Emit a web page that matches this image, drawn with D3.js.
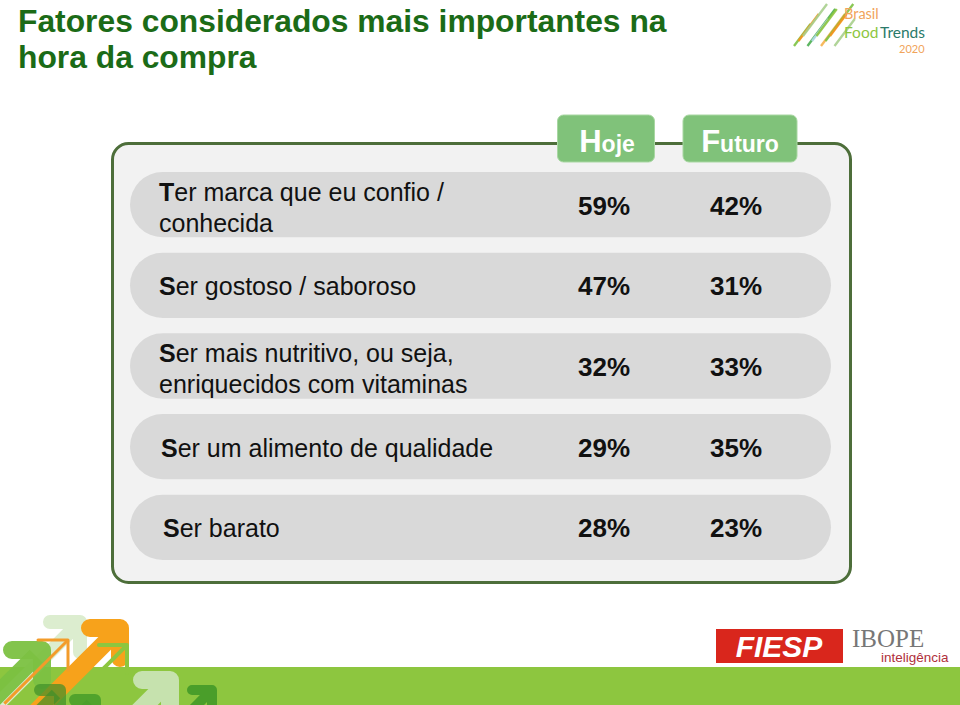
<!DOCTYPE html>
<html><head><meta charset="utf-8">
<script src="https://cdn.jsdelivr.net/npm/d3@7"></script>
<style>body{margin:0;background:#fff;}svg{display:block;font-family:"Liberation Sans",Arial,sans-serif;}</style>
</head><body><svg id="c" width="960" height="705"></svg>
<script>
const categories = [
  ["Ter marca que eu confio /", "conhecida"],
  ["Ser gostoso / saboroso"],
  ["Ser mais nutritivo, ou seja,", "enriquecidos com vitaminas"],
  ["Ser um alimento de qualidade"],
  ["Ser barato"]
];
const seriesNames = ["Hoje", "Futuro"];
const hoje = [59, 47, 32, 29, 28];
const futuro = [42, 31, 33, 35, 23];
const title = ["Fatores considerados mais importantes na", "hora da compra"];

const svg = d3.select("#c");

// Title
svg.append("g").selectAll("text").data(title).join("text")
  .attr("x", 18).attr("y", (d,i)=>32 + i*36)
  .attr("fill", "#1b6b17").attr("font-weight", "bold").attr("font-size", 31.8)
  .text(d=>d);

// Brasil Food Trends logo (decorative)
const logo = svg.append("g");
const arrowCols = ["#7dc242","#f7941d","#a8d08d","#4caf50","#b3d9e8","#8dc63f","#f7b24d"];
for (let i=0;i<10;i++){
  const x0 = 794 + i*4.5, y0 = 46 - (i%3)*5;
  const len = 22 + (i%4)*5;
  logo.append("line").attr("x1",x0).attr("y1",y0).attr("x2",x0+len*0.75).attr("y2",y0-len)
    .attr("stroke",arrowCols[i%arrowCols.length]).attr("stroke-width",2.4).attr("opacity",0.9);
}
logo.append("text").attr("x",844).attr("y",19).attr("font-size",14.5).attr("fill","#f1a45a").attr("font-family","Lato, sans-serif").text("Brasil");
logo.append("text").attr("x",844).attr("y",38).attr("font-size",15.5).attr("fill","#8dc63f").attr("font-family","Lato, sans-serif").text("Food");
logo.append("text").attr("x",880).attr("y",38).attr("font-size",15.5).attr("fill","#2a7a6a").attr("font-family","Lato, sans-serif").text("Trends");
logo.append("text").attr("x",899).attr("y",52.5).attr("font-size",11).attr("fill","#f1a45a").attr("font-family","Lato, sans-serif").text("2020");

// Outer box
svg.append("rect").attr("x",112.5).attr("y",143.5).attr("width",738).attr("height",439)
  .attr("rx",16).attr("fill","#f2f2f2").attr("stroke","#4d6e3a").attr("stroke-width",3);

// scales
const y = d3.scaleBand().domain(d3.range(categories.length)).range([172, 560]).paddingInner(0.19).paddingOuter(0);
const x = d3.scalePoint().domain(seriesNames).range([604, 736]);

// header tabs
const tabs = svg.append("g").selectAll("g").data(seriesNames).join("g");
const tabW = {Hoje: 97, Futuro: 114};
tabs.append("rect")
  .attr("x", d=>x(d) + (d==="Hoje"?2:4) - tabW[d]/2).attr("y", 115)
  .attr("width", d=>tabW[d]).attr("height", 47).attr("rx", 6)
  .attr("fill", "#80c27a").attr("stroke","#a8d7a2").attr("stroke-width",1);
tabs.append("text")
  .attr("x", d=>x(d) + (d==="Hoje"?3:4)).attr("y", 152)
  .attr("text-anchor","middle").attr("fill","#fff").attr("font-weight","bold")
  .each(function(d){
    const t = d3.select(this);
    t.append("tspan").attr("font-size",31).text(d[0]);
    t.append("tspan").attr("font-size",23).text(d.slice(1));
  });

// rows
const rows = svg.append("g").selectAll("g").data(categories).join("g")
  .attr("transform",(d,i)=>`translate(0,${y(i)})`);
rows.append("rect").attr("x",130).attr("width",701).attr("height",y.bandwidth())
  .attr("rx",y.bandwidth()/2).attr("fill","#d9d9d9");
const labelX = [159, 159, 159, 161, 163];
rows.append("g").each(function(lines,i){
  const g = d3.select(this);
  const h = y.bandwidth();
  const lh = 31;
  const start = h/2 - (lines.length-1)*lh/2 + (lines.length > 1 ? 12 : 10);
  lines.forEach((ln,j)=>{
    const t = g.append("text").attr("x", labelX[i]).attr("y", start + j*lh)
      .attr("font-size",25).attr("fill","#111");
    if (j===0){
      t.append("tspan").attr("font-weight","bold").text(ln[0]);
      t.append("tspan").text(ln.slice(1));
    } else t.text(ln);
  });
});
const vals = [hoje, futuro];
seriesNames.forEach((s,k)=>{
  rows.append("text").attr("x", x(s)).attr("y", (d,i)=>y.bandwidth()/2 + 10)
    .attr("text-anchor","middle").attr("font-size",26).attr("font-weight","bold").attr("fill","#111")
    .text((d,i)=>vals[k][i] + "%");
});

// footer
svg.append("rect").attr("x",0).attr("y",667).attr("width",960).attr("height",38).attr("fill","#8dc63f");
const deco = svg.append("g");
function arrow(hx, hy, L, s, t, c, op){
  const d = L/Math.SQRT2;
  deco.append("line").attr("x1",hx-d).attr("y1",hy+d).attr("x2",hx-t/3).attr("y2",hy+t/3)
    .attr("stroke",c).attr("stroke-width",t).attr("opacity",op);
  deco.append("path").attr("d",`M${hx-s},${hy} L${hx},${hy} L${hx},${hy+s}`)
    .attr("fill","none").attr("stroke",c).attr("stroke-width",t).attr("stroke-linejoin","round")
    .attr("stroke-linecap","round").attr("opacity",op);
}
arrow(80, 622, 120, 30, 14, "#dcedcf", 1);
arrow(42, 650, 80, 30, 18, "#7cc142", 0.95);
arrow(120, 628, 140, 30, 18, "#f7a21b", 1);
arrow(68, 640, 90, 30, 3, "#f39c2a", 1);
arrow(127, 645, 90, 28, 4, "#8dc63f", 1);
arrow(170, 680, 60, 28, 18, "#c6e2ae", 1);
arrow(212, 690, 40, 20, 10, "#4a9e2a", 1);
arrow(95, 700, 40, 20, 12, "#4a9e2a", 0.9);
arrow(60, 690, 60, 20, 12, "#3f8f2a", 0.7);
// FIESP
svg.append("rect").attr("x",716).attr("y",629).attr("width",127).attr("height",34).attr("fill","#d9261c");
svg.append("text").attr("x",779).attr("y",657).attr("text-anchor","middle").attr("font-size",30)
  .attr("font-weight","bold").attr("font-style","italic").attr("fill","#fff").text("FIESP");
svg.append("text").attr("x",852).attr("y",647).attr("font-size",25).attr("font-family","Liberation Serif, serif").attr("fill","#777").text("IBOPE");
svg.append("text").attr("x",881).attr("y",662).attr("font-size",13.5).attr("fill","#b0303a").text("inteligência");
</script></body></html>
